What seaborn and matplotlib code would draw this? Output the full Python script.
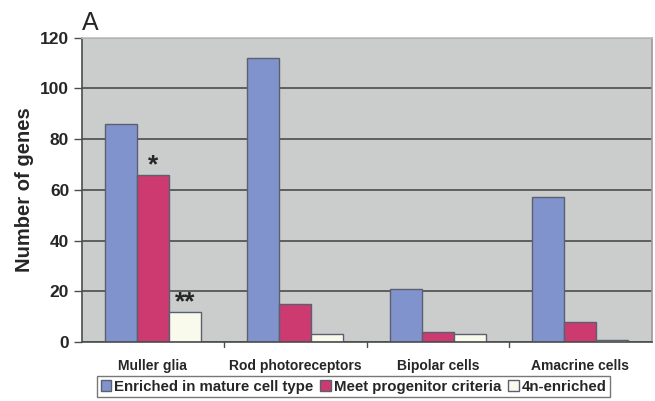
import matplotlib
matplotlib.use("Agg")
import matplotlib.pyplot as plt
import seaborn as sns
import pandas as pd
from matplotlib.patches import Patch

cell_types = ["Muller glia", "Rod photoreceptors", "Bipolar cells", "Amacrine cells"]
series_names = ["Enriched in mature cell type", "Meet progenitor criteria", "4n-enriched"]
enriched = [86, 112, 21, 57]
progenitor = [66, 15, 4, 8]
four_n = [12, 3, 3, 1]
y_ticks = [0, 20, 40, 60, 80, 100, 120]

colors = ["#8193cc", "#cc3a70", "#fafaec"]

rows = []
for name, vals in zip(series_names, [enriched, progenitor, four_n]):
    for cat, v in zip(cell_types, vals):
        rows.append({"cell": cat, "series": name, "genes": v})
df = pd.DataFrame(rows)

sns.set_theme(style="white")
plt.rcParams["font.family"] = ["Liberation Sans", "DejaVu Sans"]

fig = plt.figure(figsize=(6.55, 4.01), dpi=100)
ax = fig.add_axes([0.1247, 0.147, 0.8703, 0.759])
ax.set_facecolor("#cbcdcc")

sns.barplot(data=df, x="cell", y="genes", hue="series", order=cell_types,
            hue_order=series_names, palette=colors, width=0.674, gap=0,
            edgecolor="#5a6070", linewidth=1.0, saturation=1, ax=ax, legend=False)

ax.set_ylim(0, 120)
ax.set_xlim(-0.5, 3.5)
ax.set_yticks(y_ticks)
ax.set_yticklabels([str(t) for t in y_ticks], fontsize=12.5, fontweight="bold")
ax.yaxis.grid(True, color="#4a4d4c", linewidth=1.2)
ax.set_axisbelow(True)

ax.set_xticks(range(len(cell_types)))
ax.set_xticklabels(cell_types, fontsize=10, fontweight="bold")
ax.tick_params(axis="x", length=0, pad=12)
ax.tick_params(axis="y", length=6, width=1, color="#4a4d4c", left=True, pad=3)
for b in [0.5, 1.5, 2.5]:
    ax.plot([b, b], [0, -0.015], transform=ax.get_xaxis_transform(),
            color="#4a4d4c", lw=1, clip_on=False)

ax.set_xlabel("")
ax.set_ylabel("Number of genes", fontsize=14.5, fontweight="bold", labelpad=4)

for side in ["left", "bottom"]:
    ax.spines[side].set_color("#4a4d4c")
    ax.spines[side].set_linewidth(1.2)
ax.spines["top"].set_color("#bfc1c0")
ax.spines["right"].set_color("#9a9c9b")

# significance markers
bars_prog = ax.containers[1]
bars_4n = ax.containers[2]
p = bars_prog[0]
ax.text(p.get_x() + p.get_width() / 2, progenitor[0] - 1, "*", ha="center",
        va="bottom", fontsize=19, fontweight="bold")
q = bars_4n[0]
ax.text(q.get_x() + q.get_width() / 2, four_n[0] - 1, "**", ha="center",
        va="bottom", fontsize=19, fontweight="bold")

fig.text(0.125, 1 - 30 / 401, "A", fontsize=18, ha="left", va="baseline")

handles = [Patch(facecolor=c, edgecolor="#5a6070", label=n) for c, n in zip(colors, series_names)]
leg = fig.legend(handles=handles, loc="lower center", bbox_to_anchor=(0.540, 0.005), ncol=3,
                 frameon=True, fancybox=False, edgecolor="#555555",
                 prop={"weight": "bold", "size": 10.8}, handlelength=0.7, handleheight=0.7,
                 handletextpad=0.2, columnspacing=0.45, borderpad=0.25, borderaxespad=0.1)
leg.get_frame().set_linewidth(1.0)

fig.savefig("out.png", dpi=100, facecolor="white")
